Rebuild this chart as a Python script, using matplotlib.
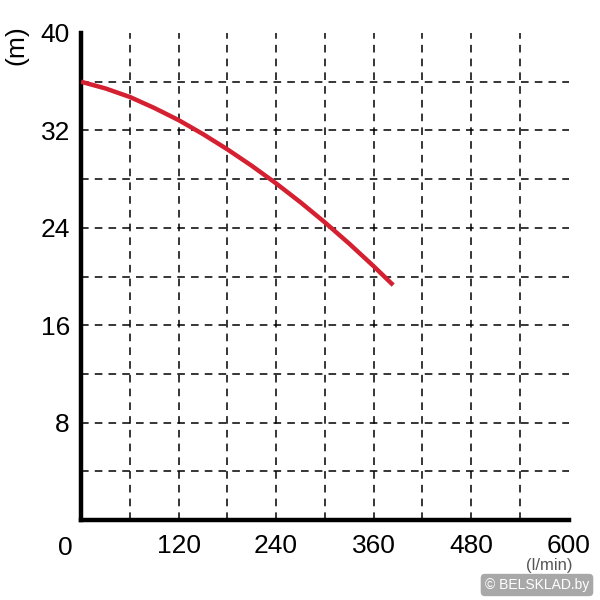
import matplotlib.pyplot as plt

plt.rcParams['font.family'] = ['Liberation Sans', 'DejaVu Sans']

# pump curve
flow = [0, 30, 60, 90, 120, 150, 180, 210, 240, 270, 300, 330, 360, 384]
head = [36.0, 35.45, 34.75, 33.85, 32.85, 31.7, 30.45, 29.1, 27.65, 26.1,
        24.45, 22.7, 20.85, 19.3]

x_ticks = [120, 240, 360, 480, 600]
y_ticks = [8, 16, 24, 32, 40]
x_grid = [60, 120, 180, 240, 300, 360, 420, 480, 540]
y_grid = [4, 8, 12, 16, 20, 24, 28, 32, 36]

fig = plt.figure(figsize=(6, 6), dpi=100)
ax = fig.add_axes([0.135, 0.133, 0.813, 0.812])
ax.set_xlim(0, 600)
ax.set_ylim(0, 40)

for gx in x_grid:
    ax.axvline(gx, color='black', lw=1.1, ls=(0, (5, 4)), zorder=1)
for gy in y_grid:
    ax.axhline(gy, color='black', lw=1.1, ls=(0, (5, 4)), zorder=1)

ax.plot(flow, head, color='#d42030', lw=3.2, solid_capstyle='butt',
        solid_joinstyle='round', zorder=3)

ax.spines['top'].set_visible(False)
ax.spines['right'].set_visible(False)
ax.spines['left'].set_linewidth(3.2)
ax.spines['bottom'].set_linewidth(3.2)

ax.set_xticks(x_ticks)
ax.set_yticks(y_ticks)
ax.tick_params(length=0, labelsize=19, pad=8)
ax.tick_params(axis='x', pad=10)
ax.text(-0.033, -0.058, '0', transform=ax.transAxes, ha='center', va='center',
        fontsize=19)

fig.text(0.028, 0.925, '(m)', rotation=90, ha='center', va='center', fontsize=19)
fig.text(0.915, 0.058, '(l/min)', ha='center', va='center',
         fontsize=12, color='#555555')
fig.text(0.895, 0.025, '\u00a9 BELSKLAD.by', ha='center', va='center',
         fontsize=10, color='white',
         bbox=dict(boxstyle='round,pad=0.3', fc='#999999', ec='none', alpha=0.85))

fig.savefig('out.png')
